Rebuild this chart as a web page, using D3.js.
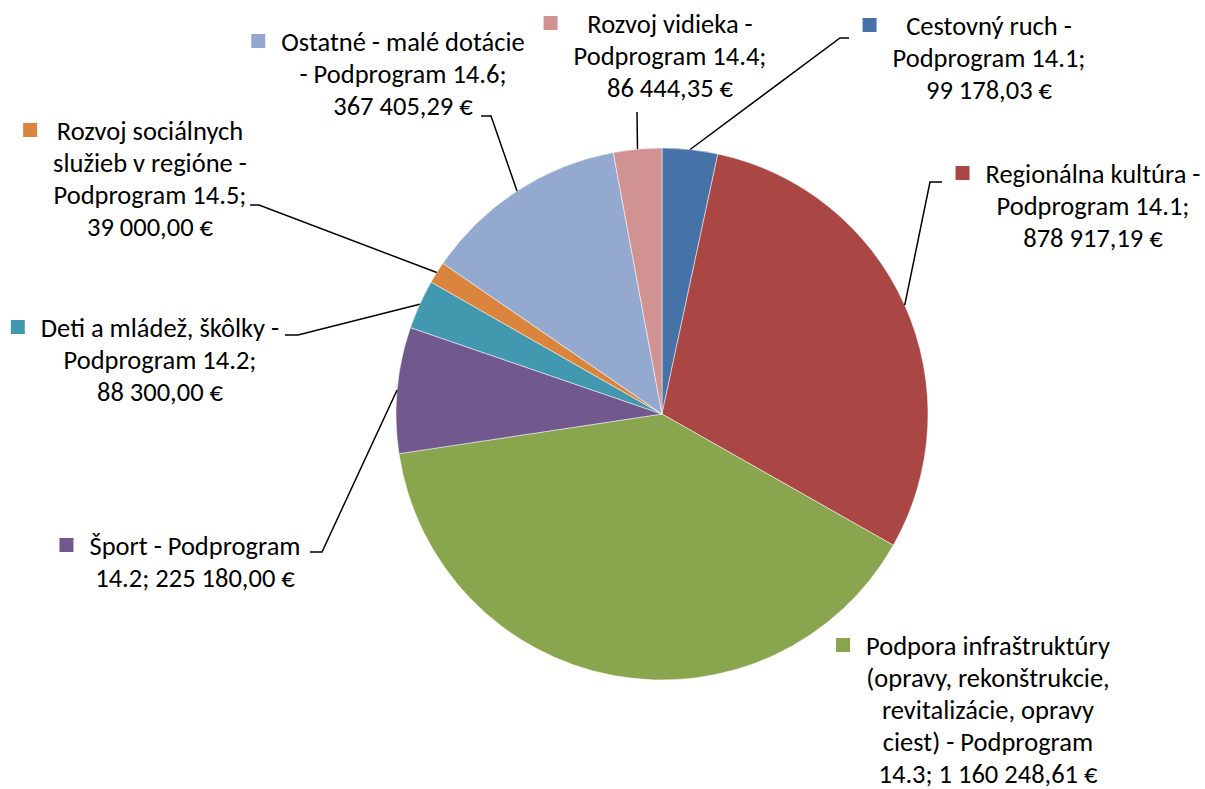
<!DOCTYPE html>
<html lang="sk">
<head>
  <meta charset="UTF-8">
  <title>Dotácie podľa podprogramov</title>
  <style>
    body { margin: 0; background: #fff; }
    svg { display: block; }
    .lbl { font-family: Carlito, Lato, sans-serif; font-size: 26.5px; fill: #000; }
    .leader { fill: none; stroke: #000; stroke-width: 1.5px; }
  </style>
</head>
<body>
  <svg width="1205" height="789"></svg>

  <script src="https://d3js.org/d3.v7.min.js"></script>
  <script>
    // slice order: clockwise from 12 o'clock
    const names = [
      "Cestovný ruch",
      "Regionálna kultúra",
      "Podpora infraštruktúry",
      "Šport",
      "Deti a mládež, škôlky",
      "Rozvoj sociálnych služieb",
      "Ostatné - malé dotácie",
      "Rozvoj vidieka"
    ];
    const values = [99178.03, 878917.19, 1160248.61, 225180.00, 88300.00, 39000.00, 367405.29, 86444.35];
    const colors = ["#4572A7", "#AA4643", "#89A54E", "#71588F", "#4198AF", "#DB843D", "#93A9CF", "#D19392"];

    // label text, one entry per line
    const labelLines = [
      ["Cestovný ruch -", "Podprogram 14.1;", "99 178,03 €"],
      ["Regionálna kultúra -", "Podprogram 14.1;", "878 917,19 €"],
      ["Podpora infraštruktúry", "(opravy, rekonštrukcie,", "revitalizácie, opravy", "ciest) - Podprogram", "14.3; 1 160 248,61 €"],
      ["Šport - Podprogram", "14.2; 225 180,00 €"],
      ["Deti a mládež, škôlky -", "Podprogram 14.2;", "88 300,00 €"],
      ["Rozvoj sociálnych", "služieb v regióne -", "Podprogram 14.5;", "39 000,00 €"],
      ["Ostatné - malé dotácie", "- Podprogram 14.6;", "367 405,29 €"],
      ["Rozvoj vidieka -", "Podprogram 14.4;", "86 444,35 €"]
    ];

    // label placement: text centre x, first baseline, leader end (anchor) and elbow
    const labelPos = [
      { cx: 989, y: 35, anchor: [849, 38], elbow: [840, 38] },
      { cx: 1093, y: 183, anchor: [942, 182], elbow: [930, 182] },
      { cx: 988, y: 655, anchor: null, elbow: null },
      { cx: 195, y: 555, anchor: [310, 552], elbow: [322, 552] },
      { cx: 160, y: 337, anchor: [285, 335], elbow: [298, 335] },
      { cx: 150, y: 140, anchor: [250, 205], elbow: [259, 205] },
      { cx: 403, y: 51, anchor: [481, 116], elbow: [491, 116] },
      { cx: 670, y: 33, anchor: [637, 112], elbow: [637, 112] }
    ];

    const cx = 662, cy = 414, radius = 266;
    const lineH = 32;

    const svg = d3.select("svg");
    const data = names.map((n, i) => ({ name: n, value: values[i], color: colors[i], lines: labelLines[i], pos: labelPos[i] }));

    const pie = d3.pie().value(d => d.value).sort(null);
    const arc = d3.arc().innerRadius(0).outerRadius(radius);
    const arcs = pie(data);

    const g = svg.append("g").attr("transform", `translate(${cx},${cy})`);
    g.selectAll("path")
      .data(arcs)
      .join("path")
      .attr("d", arc)
      .attr("fill", d => d.data.color)
      .attr("stroke", "#fff")
      .attr("stroke-width", 0.5);

    // leader lines from slice edge (mid angle) to the label
    svg.append("g").selectAll("path")
      .data(arcs.filter(d => d.data.pos.anchor))
      .join("path")
      .attr("class", "leader")
      .attr("d", d => {
        const a = (d.startAngle + d.endAngle) / 2;
        const px = cx + radius * Math.sin(a), py = cy - radius * Math.cos(a);
        const p = d3.path();
        p.moveTo(px, py);
        p.lineTo(d.data.pos.elbow[0], d.data.pos.elbow[1]);
        p.lineTo(d.data.pos.anchor[0], d.data.pos.anchor[1]);
        return p.toString();
      });

    // labels with legend key
    const lab = svg.append("g").selectAll("g")
      .data(data)
      .join("g");

    lab.each(function(d) {
      const grp = d3.select(this);
      const txt = grp.append("text")
        .attr("class", "lbl")
        .attr("text-anchor", "middle");
      d.lines.forEach((l, i) => {
        txt.append("tspan")
          .attr("x", d.pos.cx)
          .attr("y", d.pos.y + i * lineH)
          .text(l);
      });
      let maxW = 0;
      txt.selectAll("tspan").each(function() {
        maxW = Math.max(maxW, this.getComputedTextLength());
      });
      const left = d.pos.cx - maxW / 2;
      grp.append("rect")
        .attr("x", left - 30)
        .attr("y", d.pos.y - 17)
        .attr("width", 14)
        .attr("height", 14)
        .attr("fill", d.color);
    });
  </script>
</body>
</html>
